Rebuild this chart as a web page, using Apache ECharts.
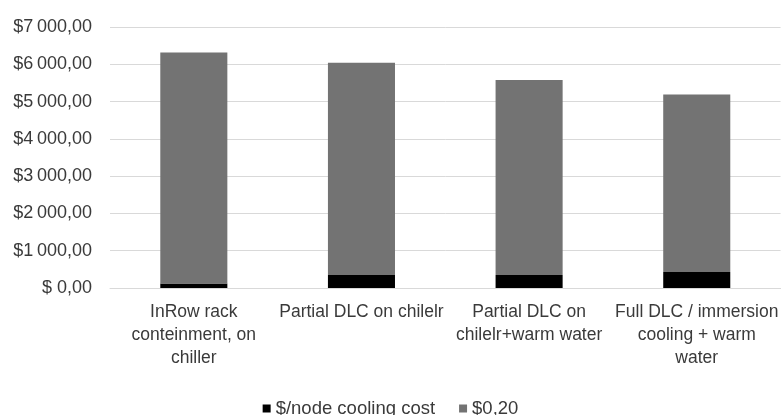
<!DOCTYPE html>
<html>
<head>
<meta charset="utf-8">
<script src="https://cdn.jsdelivr.net/npm/echarts@6/dist/echarts.min.js"></script>
<style>
  html, body { margin: 0; padding: 0; background: #fff; }
  #chart { width: 781px; height: 415px; }
</style>
</head>
<body>
<div id="chart"></div>
<script>
// Cooling options along the x axis
const categories = [
  'InRow rack\nconteinment, on\nchiller',
  'Partial DLC on chilelr',
  'Partial DLC on\nchilelr+warm water',
  'Full DLC / immersion\ncooling + warm\nwater'
];

// Stacked segments (bottom: cooling cost per node, top: energy at $0,20)
const coolingCost = [120, 350, 350, 430];
const energyCost = [6195, 5690, 5230, 4760];

// Value axis ticks
const yTicks = [0, 1000, 2000, 3000, 4000, 5000, 6000, 7000];

const FONT = '"Liberation Sans Narrow", "Liberation Sans", Arial, sans-serif';
const TEXT_COLOR = '#3a3a3a';

function money(v) {
  if (v === 0) return '$ 0,00';
  const s = String(Math.round(v));
  const th = s.slice(0, s.length - 3);
  const rest = s.slice(s.length - 3);
  return '$' + th + '\u2009' + rest + ',00';
}

const chart = echarts.init(document.getElementById('chart'), null, { renderer: 'canvas' });
chart.setOption({
  animation: false,
  backgroundColor: '#ffffff',
  textStyle: { fontFamily: FONT },
  grid: { left: 110, top: 27, width: 674, height: 261, containLabel: false },
  legend: {
    bottom: -8,
    left: 'center',
    itemWidth: 8,
    itemHeight: 8,
    itemGap: 24,
    icon: 'rect',
    textStyle: { fontFamily: FONT, fontSize: 18.5, color: TEXT_COLOR },
    data: ['$/node cooling cost', '$0,20']
  },
  xAxis: {
    type: 'category',
    data: categories,
    axisLine: { lineStyle: { color: '#d9d9d9', width: 1 } },
    axisTick: { show: false },
    axisLabel: {
      interval: 0,
      margin: 13,
      fontFamily: FONT,
      fontSize: 17.5,
      lineHeight: 23,
      color: TEXT_COLOR,
      align: 'center'
    }
  },
  yAxis: {
    type: 'value',
    min: yTicks[0],
    max: yTicks[yTicks.length - 1],
    interval: 1000,
    axisLine: { show: false },
    axisTick: { show: false },
    splitLine: { lineStyle: { color: '#d9d9d9', width: 1 } },
    axisLabel: {
      margin: 18,
      fontFamily: FONT,
      fontSize: 18,
      color: TEXT_COLOR,
      formatter: money
    }
  },
  series: [
    {
      name: '$/node cooling cost',
      type: 'bar',
      stack: 'total',
      barWidth: '40%',
      itemStyle: { color: '#000000' },
      data: coolingCost
    },
    {
      name: '$0,20',
      type: 'bar',
      stack: 'total',
      barWidth: '40%',
      itemStyle: { color: '#737373' },
      data: energyCost
    }
  ]
});
</script>
</body>
</html>
